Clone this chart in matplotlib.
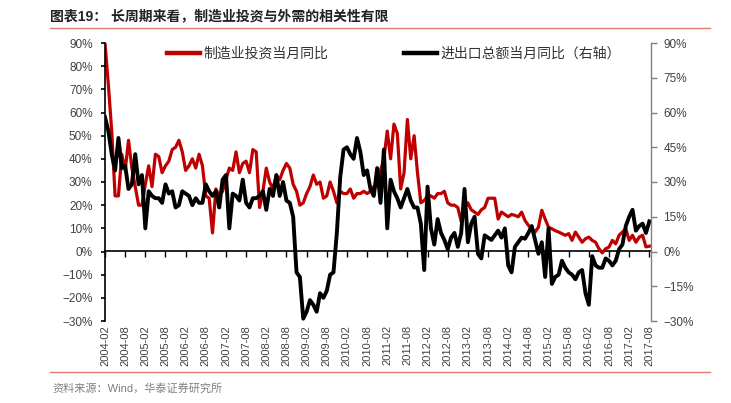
import matplotlib
matplotlib.use('Agg')
import matplotlib.pyplot as plt
from matplotlib.lines import Line2D
from matplotlib.ticker import StrMethodFormatter

plt.rcParams['font.family'] = ['Liberation Sans', 'Noto Sans CJK SC']

# 制造业投资当月同比 (%), monthly 2004-02 .. 2017-08
manu_inv = [
  90, 72, 52, 24, 24, 42, 35, 48, 36, 28,
  20, 20, 29, 37, 28, 42, 41, 34, 37, 39,
  44, 45, 48, 43, 35, 37, 40, 36, 42, 37,
  24, 23, 8, 27, 24, 26, 31, 36, 35, 43,
  34, 38, 39, 34, 44, 43, 19, 26, 36, 30,
  27, 33, 31, 35, 38, 36, 29, 26, 20, 21,
  25, 28, 33, 29, 30, 23, 24, 30, 26, 21,
  26, 25, 25, 27, 23, 25, 25, 26, 25, 26,
  28, 28, 35, 40, 52, 40, 55, 51, 27, 34,
  57, 40, 50, 34, 21, 22, 24, 24, 23, 25,
  25, 26, 21, 20, 20, 19, 13, 19, 21, 18,
  17, 16, 18, 19, 23, 23, 23, 14, 17, 16,
  15, 16, 15.6, 15, 17, 13.4, 11.3, 9.8, 8.4, 10.5,
  17.8, 14, 10.5, 9.8, 9, 8.4, 7.7, 7, 7.7, 4.8,
  8.4, 6.2, 4, 5.5, 6.2, 4.8, 4, 1.2, -0.6, 1.2,
  1.9, 4.8, 3.3, 7, 8.4, 9.8, 4.8, 7, 4, 6.2,
  7, 2, 2.3]

# 进出口总额当月同比 (%), right axis
trade = [
  58, 52, 42, 35, 49, 36, 37, 27, 29, 42,
  29, 33, 10, 26, 24, 23, 23, 21, 29, 25,
  26, 19, 20, 26, 25, 24, 20, 23, 21, 21,
  29, 26, 24, 26, 19, 31, 33, 10, 25, 24,
  22, 31, 21, 19, 23, 23, 24, 26, 18, 27,
  24, 33, 24, 30, 22, 21, 15, -9, -11, -29,
  -26, -21, -23, -26, -18, -20, -17, -10, -9, 8,
  32, 44, 45, 42, 40, 49, 43, 33, 35, 27,
  24, 36, 21, 44, 10, 31, 26, 23, 19, 23,
  27, 22, 19, 19, 12, -8, 28, 10, 3, 14,
  8, 5, 1, 6, 8, 2, 8, 27, 4, 12,
  15, -1, -3, 7, 6, 5, 7, 9, 6, 10,
  -6, -9, 2, 4, 6, 5.5, 8, 11, 5, -1,
  4, -11, 10, -14, -11, -10, -4, -7, -9, -10,
  -12, -9, -8, -18, -23, -2, -6, -7, -7, -3,
  -4, -6, -4, 1, 3, 11, 15, 18, 9, 11,
  12, 8, 13]

tick_labels = [
  '2004-02', '2004-08', '2005-02', '2005-08', '2006-02', '2006-08',
  '2007-02', '2007-08', '2008-02', '2008-08', '2009-02', '2009-08',
  '2010-02', '2010-08', '2011-02', '2011-08', '2012-02', '2012-08',
  '2013-02', '2013-08', '2014-02', '2014-08', '2015-02', '2015-08',
  '2016-02', '2016-08', '2017-02', '2017-08']

W, H = 731, 403
x = list(range(len(manu_inv)))
tick_pos = list(range(0, len(manu_inv), 6))
ymin, ymax = -30, 90

fig = plt.figure(figsize=(W / 100, H / 100), dpi=100)
ax = fig.add_axes([105 / W, 1 - 321 / H, (651 - 105) / W, (321 - 43) / H])
ax2 = ax.twinx()

l1, = ax.plot(x, manu_inv, color='#C00000', lw=2.3, label='制造业投资当月同比')
l2, = ax2.plot(x, trade, color='black', lw=2.8, label='进出口总额当月同比（右轴）')

ax.set_xlim(0, len(manu_inv) - 0.5)
ax.set_ylim(ymin, ymax)
ax2.set_ylim(ymin, ymax)
ax.set_yticks(range(-30, 91, 10))
ax2.set_yticks(range(-30, 91, 15))
ax.yaxis.set_major_formatter(StrMethodFormatter('{x:.0f}%'))
ax2.yaxis.set_major_formatter(StrMethodFormatter('{x:.0f}%'))

ax.set_xticks(tick_pos)
ax.set_xticklabels(tick_labels, rotation=90)
ax.tick_params(axis='x', length=0, pad=3, labelsize=8, labelcolor='#404040')
ax.tick_params(axis='y', length=3, width=1.2, pad=6, labelsize=8.5,
               labelcolor='#404040', color='black')
ax2.tick_params(axis='y', length=4, width=1, pad=5, labelsize=8.5,
                labelcolor='#404040', color='#808080')

for s in ['top', 'right', 'bottom']:
  ax.spines[s].set_visible(False)
for s in ['top', 'left', 'bottom']:
  ax2.spines[s].set_visible(False)
ax.spines['left'].set_linewidth(1.2)
ax2.spines['right'].set_color('#808080')
ax2.spines['right'].set_linewidth(1)

# zero line with small tick marks
zero = ax.secondary_xaxis((0 - ymin) / (ymax - ymin))
zero.set_xticks(tick_pos)
zero.tick_params(axis='x', length=4, width=1, color='black', labelbottom=False, labeltop=False)
zero.spines['bottom'].set_linewidth(1.2)

leg = ax2.legend(handles=[l1, l2], loc='upper left',
                 bbox_to_anchor=(167 / W, 1 - 47 / H), bbox_transform=fig.transFigure,
                 ncol=2, frameon=False, fontsize=10, handlelength=2.4,
                 handletextpad=0.25, columnspacing=5.4, borderpad=0, borderaxespad=0)
for t in leg.get_texts():
  t.set_color('#333333')
for h in leg.get_lines():
  h.set_linewidth(3.2)

fig.text(50 / W, 1 - 16 / H, '图表19： 长周期来看，制造业投资与外需的相关性有限',
         fontsize=10, fontweight='bold', va='center', color='#222222')
fig.add_artist(Line2D([50 / W, 710 / W], [1 - 28 / H] * 2, color='#E07B73', lw=1))
fig.add_artist(Line2D([50 / W, 710 / W], [1 - 372 / H] * 2, color='#E07B73', lw=1))
fig.text(52 / W, 1 - 388 / H, '资料来源：Wind，华泰证券研究所',
         fontsize=8, color='#808080', va='center')

fig.savefig('out.png', dpi=100)
